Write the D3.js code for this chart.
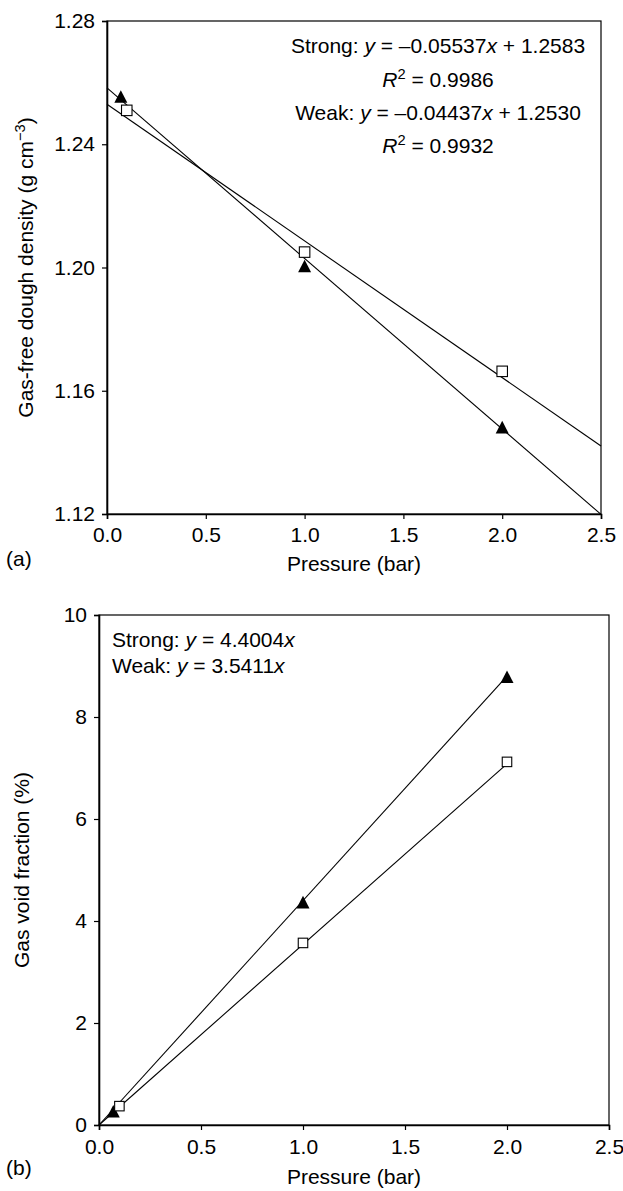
<!DOCTYPE html>
<html>
<head>
<meta charset="utf-8">
<script src="https://cdn.jsdelivr.net/npm/d3@7"></script>
<style>
  html, body { margin: 0; padding: 0; background: #fff; }
  svg { display: block; }
  text { font-family: "Liberation Sans", Arial, Helvetica, sans-serif; fill: #000; }
</style>
</head>
<body>
<svg id="chart" width="623" height="1191"></svg>
<script>
// ---- (a) gas-free dough density vs pressure ----
const densPressureStrong = [0.07, 1.0, 2.0];
const densStrong = [1.2555, 1.2005, 1.1482];
const densPressureWeak = [0.1, 1.0, 2.0];
const densWeak = [1.2510, 1.2050, 1.1663];
const densFitStrong = { slope: -0.05537, intercept: 1.2583 };
const densFitWeak = { slope: -0.04437, intercept: 1.2530 };
const densXTicks = [0, 0.5, 1.0, 1.5, 2.0, 2.5];
const densYTicks = [1.12, 1.16, 1.20, 1.24, 1.28];

// ---- (b) gas void fraction vs pressure ----
const voidPressureStrong = [0.07, 1.0, 2.0];
const voidStrong = [0.27, 4.37, 8.79];
const voidPressureWeak = [0.1, 1.0, 2.0];
const voidWeak = [0.37, 3.57, 7.12];
const voidFitStrong = { slope: 4.4004, intercept: 0 };
const voidFitWeak = { slope: 3.5411, intercept: 0 };
const voidXTicks = [0, 0.5, 1.0, 1.5, 2.0, 2.5];
const voidYTicks = [0, 2, 4, 6, 8, 10];

const svg = d3.select("#chart");
const FS = 21;

const triPath = "M0,-6.3L6.5,6.3L-6.5,6.3Z";

function panel(cfg) {
  const x = d3.scaleLinear().domain(cfg.xDomain).range([cfg.left, cfg.right]);
  const y = d3.scaleLinear().domain(cfg.yDomain).range([cfg.bottom, cfg.top]);
  const g = svg.append("g");

  // frame
  g.append("rect")
    .attr("x", cfg.left).attr("y", cfg.top)
    .attr("width", cfg.right - cfg.left).attr("height", cfg.bottom - cfg.top)
    .attr("fill", "none").attr("stroke", "#000").attr("stroke-width", 1.2);

  // axes
  const xAxis = g.append("g").attr("transform", `translate(0,${cfg.bottom})`)
    .call(d3.axisBottom(x).tickValues(cfg.xTicks).tickFormat(d3.format(".1f")).tickSize(5).tickPadding(cfg.xPad));
  const yAxis = g.append("g").attr("transform", `translate(${cfg.left},0)`)
    .call(d3.axisLeft(y).tickValues(cfg.yTicks).tickFormat(cfg.yFormat).tickSize(5).tickPadding(7));
  [xAxis, yAxis].forEach(a => {
    a.select(".domain").attr("stroke", "#000").attr("stroke-width", 1.6);
    a.selectAll(".tick line").attr("stroke", "#000").attr("stroke-width", 1.2);
    a.selectAll(".tick text").attr("font-size", FS)
      .attr("font-family", '"Liberation Sans", Arial, sans-serif').attr("fill", "#000");
  });

  // fit lines
  const line = d3.line().x(d => x(d[0])).y(d => y(d[1]));
  cfg.fits.forEach(f => {
    const pts = f.xs.map(v => [v, f.fit.slope * v + f.fit.intercept]);
    g.append("path").attr("d", line(pts))
      .attr("fill", "none").attr("stroke", "#000").attr("stroke-width", 1.1);
  });

  // markers
  g.selectAll(".tri").data(d3.zip(cfg.strongX, cfg.strongY)).join("path")
    .attr("class", "tri")
    .attr("d", triPath)
    .attr("transform", d => `translate(${x(d[0])},${y(d[1])})`)
    .attr("fill", "#000");
  g.selectAll(".sq").data(d3.zip(cfg.weakX, cfg.weakY)).join("rect")
    .attr("class", "sq")
    .attr("x", d => x(d[0]) - cfg.sq / 2).attr("y", d => y(d[1]) - cfg.sq / 2)
    .attr("width", cfg.sq).attr("height", cfg.sq)
    .attr("fill", "#fff").attr("stroke", "#000").attr("stroke-width", 1.1);

  // x axis title and panel tag
  g.append("text").attr("x", (cfg.left + cfg.right) / 2).attr("y", cfg.bottom + cfg.titleDy)
    .attr("text-anchor", "middle").attr("font-size", FS).text("Pressure (bar)");
  g.append("text").attr("x", 6).attr("y", cfg.bottom + cfg.tagDy)
    .attr("font-size", FS).text(cfg.tag);

  // y axis title
  const yt = g.append("text")
    .attr("transform", `translate(${cfg.yTitleX},${(cfg.top + cfg.bottom) / 2}) rotate(-90)`)
    .attr("text-anchor", "middle").attr("font-size", FS);
  cfg.yTitle(yt);

  return { g, x, y };
}

// equation helper: parts are [text, italic?, superscript?]
function eq(g, xPos, yPos, anchor, parts) {
  const t = g.append("text").attr("x", xPos).attr("y", yPos)
    .attr("text-anchor", anchor).attr("font-size", FS);
  parts.forEach(p => {
    const s = t.append("tspan").text(p[0]);
    if (p[1]) s.attr("font-style", "italic");
    if (p[2]) s.attr("baseline-shift", "super").attr("font-size", FS * 0.7);
  });
  return t;
}

const a = panel({
  left: 107, right: 601, top: 21, bottom: 514,
  xDomain: [0, 2.5], yDomain: [1.12, 1.28],
  xTicks: densXTicks, yTicks: densYTicks, yFormat: d3.format(".2f"),
  strongX: densPressureStrong, strongY: densStrong,
  weakX: densPressureWeak, weakY: densWeak,
  fits: [{ fit: densFitStrong, xs: [0, 2.5] }, { fit: densFitWeak, xs: [0, 2.5] }],
  sq: 10.5, tag: "(a)", tagDy: 52, titleDy: 57, xPad: 8, yTitleX: 33,
  yTitle: t => {
    t.append("tspan").text("Gas-free dough density (g cm");
    t.append("tspan").text("\u22123").attr("baseline-shift", "super").attr("font-size", FS * 0.7);
    t.append("tspan").text(")");
  }
});

eq(a.g, 438, 53, "middle", [["Strong: "], ["y", true], [" = \u20130.05537"], ["x", true], [" + 1.2583"]]);
eq(a.g, 438, 87, "middle", [["R", true], ["2", false, true], [" = 0.9986"]]);
eq(a.g, 438, 120, "middle", [["Weak: "], ["y", true], [" = \u20130.04437"], ["x", true], [" + 1.2530"]]);
eq(a.g, 438, 153, "middle", [["R", true], ["2", false, true], [" = 0.9932"]]);

const b = panel({
  left: 99, right: 609, top: 615, bottom: 1125,
  xDomain: [0, 2.5], yDomain: [0, 10],
  xTicks: voidXTicks, yTicks: voidYTicks, yFormat: d3.format("d"),
  strongX: voidPressureStrong, strongY: voidStrong,
  weakX: voidPressureWeak, weakY: voidWeak,
  fits: [{ fit: voidFitStrong, xs: [0, 2.0] }, { fit: voidFitWeak, xs: [0, 2.0] }],
  sq: 9.5, tag: "(b)", tagDy: 50, titleDy: 59, xPad: 9, yTitleX: 29,
  yTitle: t => t.text("Gas void fraction (%)")
});

eq(b.g, 112, 647, "start", [["Strong: "], ["y", true], [" = 4.4004"], ["x", true]]);
eq(b.g, 112, 673, "start", [["Weak: "], ["y", true], [" = 3.5411"], ["x", true]]);
</script>
</body>
</html>
